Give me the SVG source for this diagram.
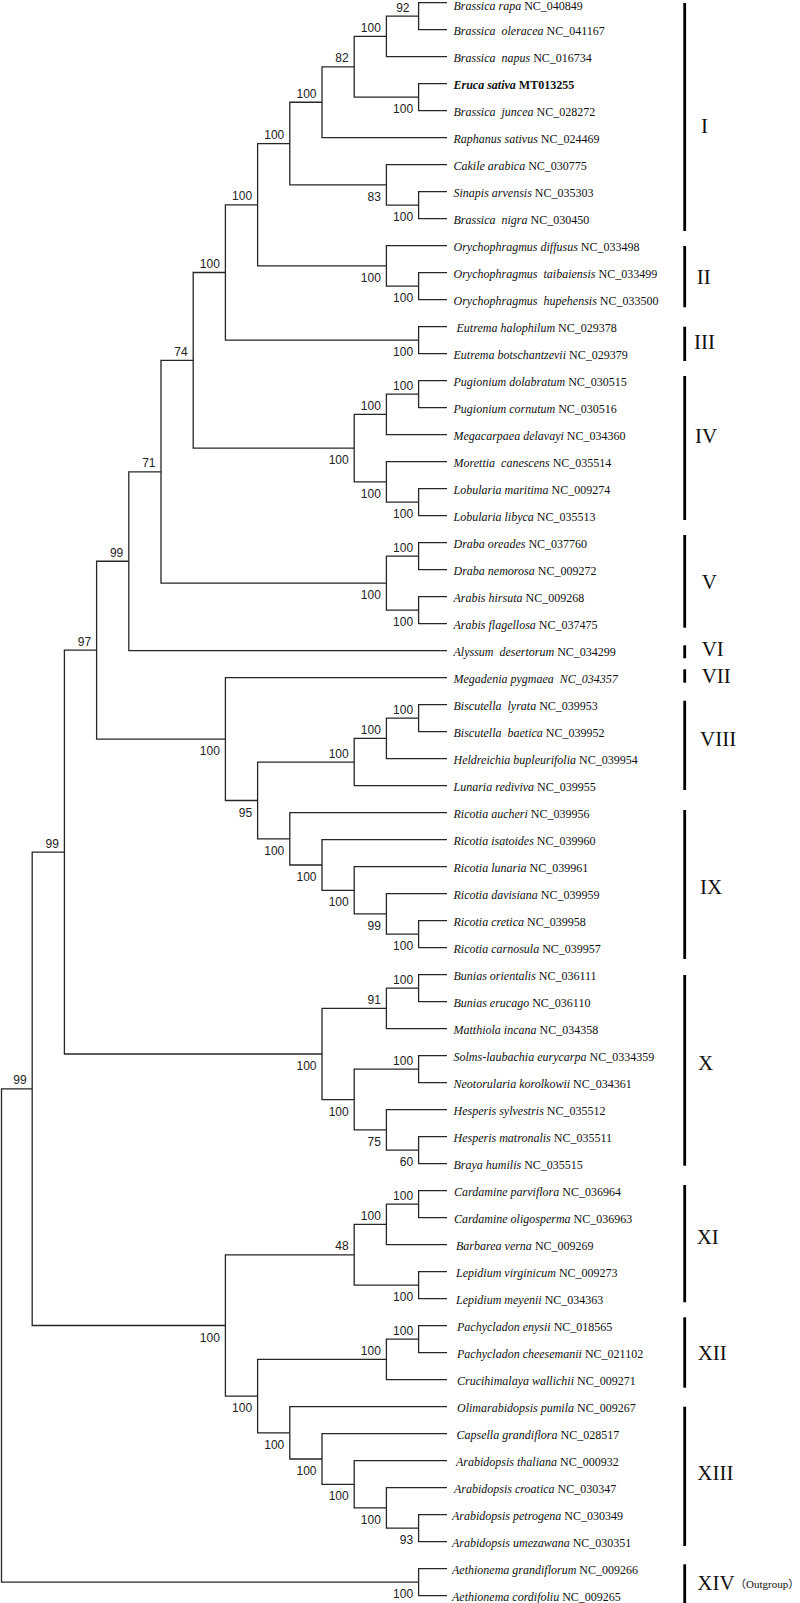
<svg xmlns="http://www.w3.org/2000/svg" width="800" height="1603" viewBox="0 0 800 1603">
<style>
.br{fill:none;stroke:#262626;stroke-width:1.3}
.sup{font-family:"Liberation Sans",Arial,sans-serif;font-size:12px;fill:#222;text-anchor:end}
.lf{font-family:"Liberation Serif","Times New Roman",serif;font-size:12px;fill:#111;white-space:pre}
.i{font-style:italic}
.bar{stroke:#000;stroke-width:2.8}
.cl{font-family:"Liberation Serif","Times New Roman","Noto Sans CJK SC",serif;font-size:21px;fill:#111}
.og{font-family:"Liberation Serif","Noto Sans CJK SC",serif;font-size:11px;fill:#111}
</style>
<rect width="800" height="1603" fill="#fff"/>
<g id="connectors">
<path class="br" d="M447 2.7H418.6V29.7H447"/>
<path class="br" d="M418.6 16.2H386.4V56.7H447"/>
<path class="br" d="M447 83.7H418.6V110.7H447"/>
<path class="br" d="M386.4 36.45H354.2V97.2H418.6"/>
<path class="br" d="M354.2 66.8H322V137.7H447"/>
<path class="br" d="M447 191.7H418.6V218.7H447"/>
<path class="br" d="M447 164.7H386.4V205.2H418.6"/>
<path class="br" d="M322 102.25H289.8V184.95H386.4"/>
<path class="br" d="M447 272.7H418.6V299.7H447"/>
<path class="br" d="M447 245.7H386.4V286.2H418.6"/>
<path class="br" d="M289.8 143.6H257.6V265.95H386.4"/>
<path class="br" d="M447 326.7H418.6V353.7H447"/>
<path class="br" d="M257.6 204.8H225.4V340.2H418.6"/>
<path class="br" d="M447 380.7H418.6V407.7H447"/>
<path class="br" d="M418.6 394.2H386.4V434.7H447"/>
<path class="br" d="M447 488.7H418.6V515.7H447"/>
<path class="br" d="M447 461.7H386.4V502.2H418.6"/>
<path class="br" d="M386.4 414.45H354.2V481.95H386.4"/>
<path class="br" d="M225.4 272.5H193.2V448.2H354.2"/>
<path class="br" d="M447 542.7H418.6V569.7H447"/>
<path class="br" d="M447 596.7H418.6V623.7H447"/>
<path class="br" d="M418.6 556.2H386.4V610.2H418.6"/>
<path class="br" d="M193.2 360.35H161V583.2H386.4"/>
<path class="br" d="M161 471.8H128.8V650.7H447"/>
<path class="br" d="M447 704.7H418.6V731.7H447"/>
<path class="br" d="M418.6 718.2H386.4V758.7H447"/>
<path class="br" d="M386.4 738.45H354.2V785.7H447"/>
<path class="br" d="M447 920.7H418.6V947.7H447"/>
<path class="br" d="M447 893.7H386.4V934.2H418.6"/>
<path class="br" d="M447 866.7H354.2V913.95H386.4"/>
<path class="br" d="M447 839.7H322V890.3H354.2"/>
<path class="br" d="M447 812.7H289.8V865H322"/>
<path class="br" d="M354.2 762.1H257.6V838.85H289.8"/>
<path class="br" d="M447 677.7H225.4V800.5H257.6"/>
<path class="br" d="M128.8 561.25H96.6V739.1H225.4"/>
<path class="br" d="M447 974.7H418.6V1001.7H447"/>
<path class="br" d="M418.6 988.2H386.4V1028.7H447"/>
<path class="br" d="M447 1055.7H418.6V1082.7H447"/>
<path class="br" d="M447 1136.7H418.6V1163.7H447"/>
<path class="br" d="M447 1109.7H386.4V1150.2H418.6"/>
<path class="br" d="M418.6 1069.2H354.2V1129.95H386.4"/>
<path class="br" d="M386.4 1008.45H322V1099.6H354.2"/>
<path class="br" d="M96.6 650.2H64.4V1054H322"/>
<path class="br" d="M447 1190.7H418.6V1217.7H447"/>
<path class="br" d="M418.6 1204.2H386.4V1244.7H447"/>
<path class="br" d="M447 1271.7H418.6V1298.7H447"/>
<path class="br" d="M386.4 1224.45H354.2V1285.2H418.6"/>
<path class="br" d="M447 1325.7H418.6V1352.7H447"/>
<path class="br" d="M418.6 1339.2H386.4V1379.7H447"/>
<path class="br" d="M447 1514.7H418.6V1541.7H447"/>
<path class="br" d="M447 1487.7H386.4V1528.2H418.6"/>
<path class="br" d="M447 1460.7H354.2V1507.95H386.4"/>
<path class="br" d="M447 1433.7H322V1484.3H354.2"/>
<path class="br" d="M447 1406.7H289.8V1459H322"/>
<path class="br" d="M386.4 1359.45H257.6V1432.85H289.8"/>
<path class="br" d="M354.2 1254.8H225.4V1396.15H257.6"/>
<path class="br" d="M64.4 852.1H32.2V1325.5H225.4"/>
<path class="br" d="M447 1568.7H418.6V1595.7H447"/>
<path class="br" d="M32.2 1088.8H1.5V1582.2H418.6"/>
</g>
<g id="support-values">
<g id="n-a"><text class="sup" x="409.5" y="11.7">92</text></g>
<g id="n-b"><text class="sup" x="380.9" y="31.95">100</text></g>
<g id="n-c"><text class="sup" x="413.1" y="113.2">100</text></g>
<g id="n-d"><text class="sup" x="348.7" y="62.3">82</text></g>
<g id="n-e"><text class="sup" x="316.5" y="97.75">100</text></g>
<g id="n-f"><text class="sup" x="413.1" y="221.2">100</text></g>
<g id="n-g"><text class="sup" x="380.9" y="200.95">83</text></g>
<g id="n-h"><text class="sup" x="284.3" y="139.1">100</text></g>
<g id="n-i"><text class="sup" x="413.1" y="302.2">100</text></g>
<g id="n-j"><text class="sup" x="380.9" y="281.95">100</text></g>
<g id="n-k"><text class="sup" x="252.1" y="200.3">100</text></g>
<g id="n-l"><text class="sup" x="413.1" y="356.2">100</text></g>
<g id="n-m"><text class="sup" x="219.9" y="268">100</text></g>
<g id="n-n"><text class="sup" x="413.1" y="389.7">100</text></g>
<g id="n-o"><text class="sup" x="380.9" y="409.95">100</text></g>
<g id="n-p"><text class="sup" x="413.1" y="518.2">100</text></g>
<g id="n-q"><text class="sup" x="380.9" y="497.95">100</text></g>
<g id="n-r"><text class="sup" x="348.7" y="464.2">100</text></g>
<g id="n-s"><text class="sup" x="187.7" y="355.85">74</text></g>
<g id="n-t"><text class="sup" x="413.1" y="551.7">100</text></g>
<g id="n-u"><text class="sup" x="413.1" y="626.2">100</text></g>
<g id="n-v"><text class="sup" x="380.9" y="599.2">100</text></g>
<g id="n-w"><text class="sup" x="155.5" y="467.3">71</text></g>
<g id="n-x"><text class="sup" x="123.3" y="556.75">99</text></g>
<g id="n-y"><text class="sup" x="413.1" y="713.7">100</text></g>
<g id="n-z"><text class="sup" x="380.9" y="733.95">100</text></g>
<g id="n-aa"><text class="sup" x="348.7" y="757.6">100</text></g>
<g id="n-ab"><text class="sup" x="413.1" y="950.2">100</text></g>
<g id="n-ac"><text class="sup" x="380.9" y="929.95">99</text></g>
<g id="n-ad"><text class="sup" x="348.7" y="906.3">100</text></g>
<g id="n-ae"><text class="sup" x="316.5" y="881">100</text></g>
<g id="n-af"><text class="sup" x="284.3" y="854.85">100</text></g>
<g id="n-ag"><text class="sup" x="252.1" y="816.5">95</text></g>
<g id="n-ah"><text class="sup" x="219.9" y="755.1">100</text></g>
<g id="n-ai"><text class="sup" x="91.1" y="645.7">97</text></g>
<g id="n-aj"><text class="sup" x="413.1" y="983.7">100</text></g>
<g id="n-ak"><text class="sup" x="380.9" y="1003.95">91</text></g>
<g id="n-al"><text class="sup" x="413.1" y="1064.7">100</text></g>
<g id="n-am"><text class="sup" x="413.1" y="1166.2">60</text></g>
<g id="n-an"><text class="sup" x="380.9" y="1145.95">75</text></g>
<g id="n-ao"><text class="sup" x="348.7" y="1115.6">100</text></g>
<g id="n-ap"><text class="sup" x="316.5" y="1070">100</text></g>
<g id="n-aq"><text class="sup" x="58.9" y="847.6">99</text></g>
<g id="n-ar"><text class="sup" x="413.1" y="1199.7">100</text></g>
<g id="n-as"><text class="sup" x="380.9" y="1219.95">100</text></g>
<g id="n-at"><text class="sup" x="413.1" y="1301.2">100</text></g>
<g id="n-au"><text class="sup" x="348.7" y="1250.3">48</text></g>
<g id="n-av"><text class="sup" x="413.1" y="1334.7">100</text></g>
<g id="n-aw"><text class="sup" x="380.9" y="1354.95">100</text></g>
<g id="n-ax"><text class="sup" x="413.1" y="1544.2">93</text></g>
<g id="n-ay"><text class="sup" x="380.9" y="1523.95">100</text></g>
<g id="n-az"><text class="sup" x="348.7" y="1500.3">100</text></g>
<g id="n-ba"><text class="sup" x="316.5" y="1475">100</text></g>
<g id="n-bb"><text class="sup" x="284.3" y="1448.85">100</text></g>
<g id="n-bc"><text class="sup" x="252.1" y="1412.15">100</text></g>
<g id="n-bd"><text class="sup" x="219.9" y="1341.5">100</text></g>
<g id="n-be"><text class="sup" x="26.7" y="1084.3">99</text></g>
<g id="n-bf"><text class="sup" x="413.1" y="1598.2">100</text></g>
</g>
<g id="leaves">
<g id="leaf-00"><text class="lf" x="453.5" y="9.6"><tspan class="i">Brassica rapa</tspan> NC_040849</text></g>
<g id="leaf-01"><text class="lf" x="453.5" y="34.7"><tspan class="i">Brassica  oleracea</tspan> NC_041167</text></g>
<g id="leaf-02"><text class="lf" x="453.5" y="61.7"><tspan class="i">Brassica  napus</tspan> NC_016734</text></g>
<g id="leaf-03"><text class="lf" x="453.5" y="88.7" font-weight="bold"><tspan class="i">Eruca sativa</tspan> MT013255</text></g>
<g id="leaf-04"><text class="lf" x="453.5" y="115.7"><tspan class="i">Brassica  juncea</tspan> NC_028272</text></g>
<g id="leaf-05"><text class="lf" x="453.5" y="142.7"><tspan class="i">Raphanus sativus</tspan> NC_024469</text></g>
<g id="leaf-06"><text class="lf" x="453.5" y="169.7"><tspan class="i">Cakile arabica</tspan> NC_030775</text></g>
<g id="leaf-07"><text class="lf" x="453.5" y="196.7"><tspan class="i">Sinapis arvensis</tspan> NC_035303</text></g>
<g id="leaf-08"><text class="lf" x="453.5" y="223.7"><tspan class="i">Brassica  nigra</tspan> NC_030450</text></g>
<g id="leaf-09"><text class="lf" x="453.5" y="250.7"><tspan class="i">Orychophragmus diffusus</tspan> NC_033498</text></g>
<g id="leaf-10"><text class="lf" x="453.5" y="277.7"><tspan class="i">Orychophragmus  taibaiensis</tspan> NC_033499</text></g>
<g id="leaf-11"><text class="lf" x="453.5" y="304.7"><tspan class="i">Orychophragmus  hupehensis</tspan> NC_033500</text></g>
<g id="leaf-12"><text class="lf" x="456.5" y="331.7"><tspan class="i">Eutrema halophilum</tspan> NC_029378</text></g>
<g id="leaf-13"><text class="lf" x="453.5" y="358.7"><tspan class="i">Eutrema botschantzevii</tspan> NC_029379</text></g>
<g id="leaf-14"><text class="lf" x="453.5" y="385.7"><tspan class="i">Pugionium dolabratum</tspan> NC_030515</text></g>
<g id="leaf-15"><text class="lf" x="453.5" y="412.7"><tspan class="i">Pugionium cornutum</tspan> NC_030516</text></g>
<g id="leaf-16"><text class="lf" x="453.5" y="439.7"><tspan class="i">Megacarpaea delavayi</tspan> NC_034360</text></g>
<g id="leaf-17"><text class="lf" x="453.5" y="466.7"><tspan class="i">Morettia  canescens</tspan> NC_035514</text></g>
<g id="leaf-18"><text class="lf" x="453.5" y="493.7"><tspan class="i">Lobularia maritima</tspan> NC_009274</text></g>
<g id="leaf-19"><text class="lf" x="453.5" y="520.7"><tspan class="i">Lobularia libyca</tspan> NC_035513</text></g>
<g id="leaf-20"><text class="lf" x="453.5" y="547.7"><tspan class="i">Draba oreades</tspan> NC_037760</text></g>
<g id="leaf-21"><text class="lf" x="453.5" y="574.7"><tspan class="i">Draba nemorosa</tspan> NC_009272</text></g>
<g id="leaf-22"><text class="lf" x="453.5" y="601.7"><tspan class="i">Arabis hirsuta</tspan> NC_009268</text></g>
<g id="leaf-23"><text class="lf" x="453.5" y="628.7"><tspan class="i">Arabis flagellosa</tspan> NC_037475</text></g>
<g id="leaf-24"><text class="lf" x="453.5" y="655.7"><tspan class="i">Alyssum  desertorum</tspan> NC_034299</text></g>
<g id="leaf-25"><text class="lf" x="453.5" y="682.7"><tspan class="i">Megadenia pygmaea  NC_034357</tspan></text></g>
<g id="leaf-26"><text class="lf" x="453.5" y="709.7"><tspan class="i">Biscutella  lyrata</tspan> NC_039953</text></g>
<g id="leaf-27"><text class="lf" x="453.5" y="736.7"><tspan class="i">Biscutella  baetica</tspan> NC_039952</text></g>
<g id="leaf-28"><text class="lf" x="453.5" y="763.7"><tspan class="i">Heldreichia bupleurifolia</tspan> NC_039954</text></g>
<g id="leaf-29"><text class="lf" x="453.5" y="790.7"><tspan class="i">Lunaria rediviva</tspan> NC_039955</text></g>
<g id="leaf-30"><text class="lf" x="453.5" y="817.7"><tspan class="i">Ricotia aucheri</tspan> NC_039956</text></g>
<g id="leaf-31"><text class="lf" x="453.5" y="844.7"><tspan class="i">Ricotia isatoides</tspan> NC_039960</text></g>
<g id="leaf-32"><text class="lf" x="453.5" y="871.7"><tspan class="i">Ricotia lunaria</tspan> NC_039961</text></g>
<g id="leaf-33"><text class="lf" x="453.5" y="898.7"><tspan class="i">Ricotia davisiana</tspan> NC_039959</text></g>
<g id="leaf-34"><text class="lf" x="453.5" y="925.7"><tspan class="i">Ricotia cretica</tspan> NC_039958</text></g>
<g id="leaf-35"><text class="lf" x="453.5" y="952.7"><tspan class="i">Ricotia carnosula</tspan> NC_039957</text></g>
<g id="leaf-36"><text class="lf" x="453.5" y="979.7"><tspan class="i">Bunias orientalis</tspan> NC_036111</text></g>
<g id="leaf-37"><text class="lf" x="453.5" y="1006.7"><tspan class="i">Bunias erucago</tspan> NC_036110</text></g>
<g id="leaf-38"><text class="lf" x="453.5" y="1033.7"><tspan class="i">Matthiola incana</tspan> NC_034358</text></g>
<g id="leaf-39"><text class="lf" x="453.5" y="1060.7"><tspan class="i">Solms-laubachia eurycarpa</tspan> NC_0334359</text></g>
<g id="leaf-40"><text class="lf" x="453.5" y="1087.7"><tspan class="i">Neotorularia korolkowii</tspan> NC_034361</text></g>
<g id="leaf-41"><text class="lf" x="453.5" y="1114.7"><tspan class="i">Hesperis sylvestris</tspan> NC_035512</text></g>
<g id="leaf-42"><text class="lf" x="453.5" y="1141.7"><tspan class="i">Hesperis matronalis</tspan> NC_035511</text></g>
<g id="leaf-43"><text class="lf" x="453.5" y="1168.7"><tspan class="i">Braya humilis</tspan> NC_035515</text></g>
<g id="leaf-44"><text class="lf" x="454" y="1195.7"><tspan class="i">Cardamine parviflora</tspan> NC_036964</text></g>
<g id="leaf-45"><text class="lf" x="454" y="1222.7"><tspan class="i">Cardamine oligosperma</tspan> NC_036963</text></g>
<g id="leaf-46"><text class="lf" x="456" y="1249.7"><tspan class="i">Barbarea verna</tspan> NC_009269</text></g>
<g id="leaf-47"><text class="lf" x="456" y="1276.7"><tspan class="i">Lepidium virginicum</tspan> NC_009273</text></g>
<g id="leaf-48"><text class="lf" x="456" y="1303.7"><tspan class="i">Lepidium meyenii</tspan> NC_034363</text></g>
<g id="leaf-49"><text class="lf" x="457" y="1330.7"><tspan class="i">Pachycladon enysii</tspan> NC_018565</text></g>
<g id="leaf-50"><text class="lf" x="457" y="1357.7"><tspan class="i">Pachycladon cheesemanii</tspan> NC_021102</text></g>
<g id="leaf-51"><text class="lf" x="457" y="1384.7"><tspan class="i">Crucihimalaya wallichii</tspan> NC_009271</text></g>
<g id="leaf-52"><text class="lf" x="457" y="1411.7"><tspan class="i">Olimarabidopsis pumila</tspan> NC_009267</text></g>
<g id="leaf-53"><text class="lf" x="456.5" y="1438.7"><tspan class="i">Capsella grandiflora</tspan> NC_028517</text></g>
<g id="leaf-54"><text class="lf" x="456" y="1465.7"><tspan class="i">Arabidopsis thaliana</tspan> NC_000932</text></g>
<g id="leaf-55"><text class="lf" x="454" y="1492.7"><tspan class="i">Arabidopsis croatica</tspan> NC_030347</text></g>
<g id="leaf-56"><text class="lf" x="452" y="1519.7"><tspan class="i">Arabidopsis petrogena</tspan> NC_030349</text></g>
<g id="leaf-57"><text class="lf" x="452" y="1546.7"><tspan class="i">Arabidopsis umezawana</tspan> NC_030351</text></g>
<g id="leaf-58"><text class="lf" x="452" y="1573.7"><tspan class="i">Aethionema grandiflorum</tspan> NC_009266</text></g>
<g id="leaf-59"><text class="lf" x="452" y="1600.7"><tspan class="i">Aethionema cordifoliu</tspan> NC_009265</text></g>
</g>
<g id="clades">
<g id="clade-I"><line class="bar" x1="684.7" y1="3" x2="684.7" y2="231"/><text class="cl" x="701" y="133">I</text></g>
<g id="clade-II"><line class="bar" x1="684.7" y1="246" x2="684.7" y2="307.3"/><text class="cl" x="696.7" y="284.3">II</text></g>
<g id="clade-III"><line class="bar" x1="684.7" y1="326.7" x2="684.7" y2="361"/><text class="cl" x="694" y="348.7">III</text></g>
<g id="clade-IV"><line class="bar" x1="684.7" y1="376" x2="684.7" y2="520"/><text class="cl" x="695" y="443">IV</text></g>
<g id="clade-V"><line class="bar" x1="684.7" y1="535" x2="684.7" y2="627.7"/><text class="cl" x="701.7" y="588.7">V</text></g>
<g id="clade-VI"><line class="bar" x1="684.7" y1="645.3" x2="684.7" y2="658.3"/><text class="cl" x="701.7" y="656.3">VI</text></g>
<g id="clade-VII"><line class="bar" x1="684.7" y1="669.3" x2="684.7" y2="682.7"/><text class="cl" x="701.7" y="683">VII</text></g>
<g id="clade-VIII"><line class="bar" x1="684.7" y1="700.7" x2="684.7" y2="790"/><text class="cl" x="700" y="746.3">VIII</text></g>
<g id="clade-IX"><line class="bar" x1="684.7" y1="810" x2="684.7" y2="959"/><text class="cl" x="700" y="893.7">IX</text></g>
<g id="clade-X"><line class="bar" x1="684.7" y1="975" x2="684.7" y2="1165.7"/><text class="cl" x="698" y="1070.3">X</text></g>
<g id="clade-XI"><line class="bar" x1="684.7" y1="1185" x2="684.7" y2="1302.3"/><text class="cl" x="696.7" y="1244.3">XI</text></g>
<g id="clade-XII"><line class="bar" x1="684.7" y1="1317.3" x2="684.7" y2="1387.7"/><text class="cl" x="697.7" y="1360.3">XII</text></g>
<g id="clade-XIII"><line class="bar" x1="684.7" y1="1406.7" x2="684.7" y2="1546"/><text class="cl" x="697.3" y="1480.3">XIII</text></g>
<g id="clade-XIV"><line class="bar" x1="684.7" y1="1564.3" x2="684.7" y2="1603"/><text class="cl" x="697.3" y="1590.3">XIV</text><text class="og" x="735" y="1587.5">（Outgroup）</text></g>
</g>
</svg>
